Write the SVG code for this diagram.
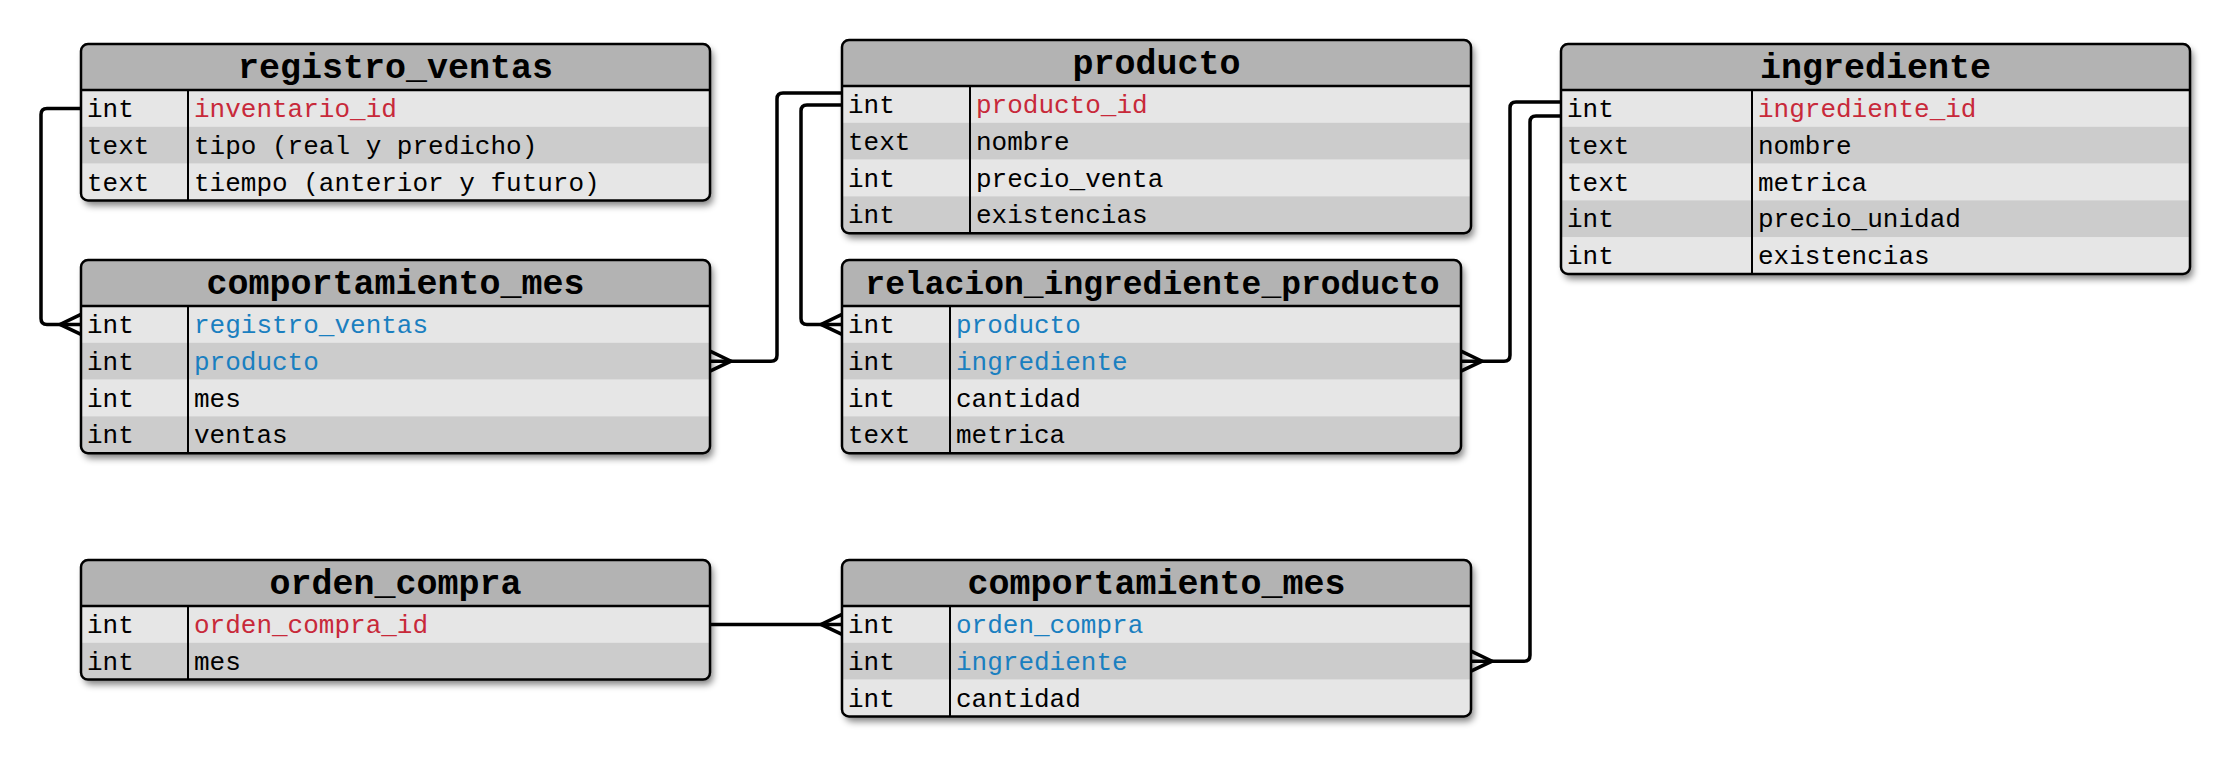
<svg xmlns="http://www.w3.org/2000/svg" width="2231" height="757" viewBox="0 0 2231 757">
<style>
.bg{fill:#e6e6e6;filter:url(#shadow)}
.hd{fill:#b3b3b3}
.r1{fill:#e6e6e6}
.r2{fill:#cccccc}
.frame{fill:none;stroke:#000;stroke-width:2.5}
.sep{stroke:#000;stroke-width:2.5}
.div{stroke:#000;stroke-width:2}
.title{font-family:"Liberation Mono","DejaVu Sans Mono",monospace;font-size:35px;font-weight:bold;fill:#000;text-anchor:middle}
.t{font-family:"Liberation Mono","DejaVu Sans Mono",monospace;font-size:26px;fill:#000}
.pk{fill:#c8293a}
.fk{fill:#1a7fc0}
.conn{fill:none;stroke:#000;stroke-width:3.5;stroke-linejoin:round}
</style>
<defs>
<filter id="shadow" x="-5%" y="-10%" width="115%" height="130%">
<feGaussianBlur in="SourceAlpha" stdDeviation="3.5"/>
<feOffset dx="3" dy="5" result="b"/>
<feComponentTransfer><feFuncA type="linear" slope="0.5"/></feComponentTransfer>
<feMerge><feMergeNode/><feMergeNode in="SourceGraphic"/></feMerge>
</filter>
<marker id="many" markerUnits="userSpaceOnUse" viewBox="-24 -13 26 26" refX="0" refY="0" markerWidth="26" markerHeight="26" orient="auto" overflow="visible">
<path d="M0,-10 L-21,0 L0,10" fill="none" stroke="#000" stroke-width="3.5" stroke-linejoin="miter"/>
</marker>
<clipPath id="c1"><rect x="81" y="44" width="629" height="156.4" rx="7"/></clipPath>
<clipPath id="c2"><rect x="81" y="260" width="629" height="193.2" rx="7"/></clipPath>
<clipPath id="c3"><rect x="842" y="40" width="629" height="193.2" rx="7"/></clipPath>
<clipPath id="c4"><rect x="842" y="260" width="619" height="193.2" rx="7"/></clipPath>
<clipPath id="c5"><rect x="1561" y="44" width="629" height="230" rx="7"/></clipPath>
<clipPath id="c6"><rect x="81" y="560" width="629" height="119.6" rx="7"/></clipPath>
<clipPath id="c7"><rect x="842" y="560" width="629" height="156.4" rx="7"/></clipPath>
</defs>
<rect x="0" y="0" width="2231" height="757" fill="#fff"/>

<g id="connectors">
<path class="conn" d="M81,108.4 H47 Q41,108.4 41,114.4 V318.4 Q41,324.4 47,324.4 H81" marker-end="url(#many)"/>
<path class="conn" d="M842,93 H783 Q777,93 777,99 V355.2 Q777,361.2 771,361.2 H710" marker-end="url(#many)"/>
<path class="conn" d="M842,105 H807 Q801,105 801,111 V318.4 Q801,324.4 807,324.4 H842" marker-end="url(#many)"/>
<path class="conn" d="M1561,102 H1516 Q1510,102 1510,108 V355.2 Q1510,361.2 1504,361.2 H1461" marker-end="url(#many)"/>
<path class="conn" d="M1561,116 H1536 Q1530,116 1530,122 V655.2 Q1530,661.2 1524,661.2 H1471" marker-end="url(#many)"/>
<path class="conn" d="M710,624.4 H842" marker-end="url(#many)"/>
</g>

<g id="registro_ventas">
<rect class="bg" x="81" y="44" width="629" height="156.4" rx="7"/>
<g clip-path="url(#c1)">
<rect class="hd" x="81" y="44" width="629" height="46"/>
<rect class="r1" x="81" y="90" width="629" height="36.8"/>
<rect class="r2" x="81" y="126.8" width="629" height="36.8"/>
<rect class="r1" x="81" y="163.6" width="629" height="36.8"/>
</g>
<line class="sep" x1="81" y1="90" x2="710" y2="90"/>
<line class="div" x1="188" y1="90" x2="188" y2="200.4"/>
<rect class="frame" x="81" y="44" width="629" height="156.4" rx="7"/>
<text class="title" x="395.5" y="78">registro_ventas</text>
<text class="t" x="87" y="117">int</text><text class="t pk" x="194" y="117">inventario_id</text>
<text class="t" x="87" y="153.8">text</text><text class="t" x="194" y="153.8">tipo (real y predicho)</text>
<text class="t" x="87" y="190.6">text</text><text class="t" x="194" y="190.6">tiempo (anterior y futuro)</text>
</g>

<g id="comportamiento_mes_1">
<rect class="bg" x="81" y="260" width="629" height="193.2" rx="7"/>
<g clip-path="url(#c2)">
<rect class="hd" x="81" y="260" width="629" height="46"/>
<rect class="r1" x="81" y="306" width="629" height="36.8"/>
<rect class="r2" x="81" y="342.8" width="629" height="36.8"/>
<rect class="r1" x="81" y="379.6" width="629" height="36.8"/>
<rect class="r2" x="81" y="416.4" width="629" height="36.8"/>
</g>
<line class="sep" x1="81" y1="306" x2="710" y2="306"/>
<line class="div" x1="188" y1="306" x2="188" y2="453.2"/>
<rect class="frame" x="81" y="260" width="629" height="193.2" rx="7"/>
<text class="title" x="395.5" y="294">comportamiento_mes</text>
<text class="t" x="87" y="333">int</text><text class="t fk" x="194" y="333">registro_ventas</text>
<text class="t" x="87" y="369.8">int</text><text class="t fk" x="194" y="369.8">producto</text>
<text class="t" x="87" y="406.6">int</text><text class="t" x="194" y="406.6">mes</text>
<text class="t" x="87" y="443.4">int</text><text class="t" x="194" y="443.4">ventas</text>
</g>

<g id="producto">
<rect class="bg" x="842" y="40" width="629" height="193.2" rx="7"/>
<g clip-path="url(#c3)">
<rect class="hd" x="842" y="40" width="629" height="46"/>
<rect class="r1" x="842" y="86" width="629" height="36.8"/>
<rect class="r2" x="842" y="122.8" width="629" height="36.8"/>
<rect class="r1" x="842" y="159.6" width="629" height="36.8"/>
<rect class="r2" x="842" y="196.4" width="629" height="36.8"/>
</g>
<line class="sep" x1="842" y1="86" x2="1471" y2="86"/>
<line class="div" x1="970" y1="86" x2="970" y2="233.2"/>
<rect class="frame" x="842" y="40" width="629" height="193.2" rx="7"/>
<text class="title" x="1156.5" y="74">producto</text>
<text class="t" x="848" y="113">int</text><text class="t pk" x="976" y="113">producto_id</text>
<text class="t" x="848" y="149.8">text</text><text class="t" x="976" y="149.8">nombre</text>
<text class="t" x="848" y="186.6">int</text><text class="t" x="976" y="186.6">precio_venta</text>
<text class="t" x="848" y="223.4">int</text><text class="t" x="976" y="223.4">existencias</text>
</g>

<g id="relacion_ingrediente_producto">
<rect class="bg" x="842" y="260" width="619" height="193.2" rx="7"/>
<g clip-path="url(#c4)">
<rect class="hd" x="842" y="260" width="619" height="46"/>
<rect class="r1" x="842" y="306" width="619" height="36.8"/>
<rect class="r2" x="842" y="342.8" width="619" height="36.8"/>
<rect class="r1" x="842" y="379.6" width="619" height="36.8"/>
<rect class="r2" x="842" y="416.4" width="619" height="36.8"/>
</g>
<line class="sep" x1="842" y1="306" x2="1461" y2="306"/>
<line class="div" x1="950" y1="306" x2="950" y2="453.2"/>
<rect class="frame" x="842" y="260" width="619" height="193.2" rx="7"/>
<text class="title" x="1152.5" y="294" style="font-size:33px">relacion_ingrediente_producto</text>
<text class="t" x="848" y="333">int</text><text class="t fk" x="956" y="333">producto</text>
<text class="t" x="848" y="369.8">int</text><text class="t fk" x="956" y="369.8">ingrediente</text>
<text class="t" x="848" y="406.6">int</text><text class="t" x="956" y="406.6">cantidad</text>
<text class="t" x="848" y="443.4">text</text><text class="t" x="956" y="443.4">metrica</text>
</g>

<g id="ingrediente">
<rect class="bg" x="1561" y="44" width="629" height="230" rx="7"/>
<g clip-path="url(#c5)">
<rect class="hd" x="1561" y="44" width="629" height="46"/>
<rect class="r1" x="1561" y="90" width="629" height="36.8"/>
<rect class="r2" x="1561" y="126.8" width="629" height="36.8"/>
<rect class="r1" x="1561" y="163.6" width="629" height="36.8"/>
<rect class="r2" x="1561" y="200.4" width="629" height="36.8"/>
<rect class="r1" x="1561" y="237.2" width="629" height="36.8"/>
</g>
<line class="sep" x1="1561" y1="90" x2="2190" y2="90"/>
<line class="div" x1="1752" y1="90" x2="1752" y2="274"/>
<rect class="frame" x="1561" y="44" width="629" height="230" rx="7"/>
<text class="title" x="1875.5" y="78">ingrediente</text>
<text class="t" x="1567" y="117">int</text><text class="t pk" x="1758" y="117">ingrediente_id</text>
<text class="t" x="1567" y="153.8">text</text><text class="t" x="1758" y="153.8">nombre</text>
<text class="t" x="1567" y="190.6">text</text><text class="t" x="1758" y="190.6">metrica</text>
<text class="t" x="1567" y="227.4">int</text><text class="t" x="1758" y="227.4">precio_unidad</text>
<text class="t" x="1567" y="264.2">int</text><text class="t" x="1758" y="264.2">existencias</text>
</g>

<g id="orden_compra">
<rect class="bg" x="81" y="560" width="629" height="119.6" rx="7"/>
<g clip-path="url(#c6)">
<rect class="hd" x="81" y="560" width="629" height="46"/>
<rect class="r1" x="81" y="606" width="629" height="36.8"/>
<rect class="r2" x="81" y="642.8" width="629" height="36.8"/>
</g>
<line class="sep" x1="81" y1="606" x2="710" y2="606"/>
<line class="div" x1="188" y1="606" x2="188" y2="679.6"/>
<rect class="frame" x="81" y="560" width="629" height="119.6" rx="7"/>
<text class="title" x="395.5" y="594">orden_compra</text>
<text class="t" x="87" y="633">int</text><text class="t pk" x="194" y="633">orden_compra_id</text>
<text class="t" x="87" y="669.8">int</text><text class="t" x="194" y="669.8">mes</text>
</g>

<g id="comportamiento_mes_2">
<rect class="bg" x="842" y="560" width="629" height="156.4" rx="7"/>
<g clip-path="url(#c7)">
<rect class="hd" x="842" y="560" width="629" height="46"/>
<rect class="r1" x="842" y="606" width="629" height="36.8"/>
<rect class="r2" x="842" y="642.8" width="629" height="36.8"/>
<rect class="r1" x="842" y="679.6" width="629" height="36.8"/>
</g>
<line class="sep" x1="842" y1="606" x2="1471" y2="606"/>
<line class="div" x1="950" y1="606" x2="950" y2="716.4"/>
<rect class="frame" x="842" y="560" width="629" height="156.4" rx="7"/>
<text class="title" x="1156.5" y="594">comportamiento_mes</text>
<text class="t" x="848" y="633">int</text><text class="t fk" x="956" y="633">orden_compra</text>
<text class="t" x="848" y="669.8">int</text><text class="t fk" x="956" y="669.8">ingrediente</text>
<text class="t" x="848" y="706.6">int</text><text class="t" x="956" y="706.6">cantidad</text>
</g>
</svg>
